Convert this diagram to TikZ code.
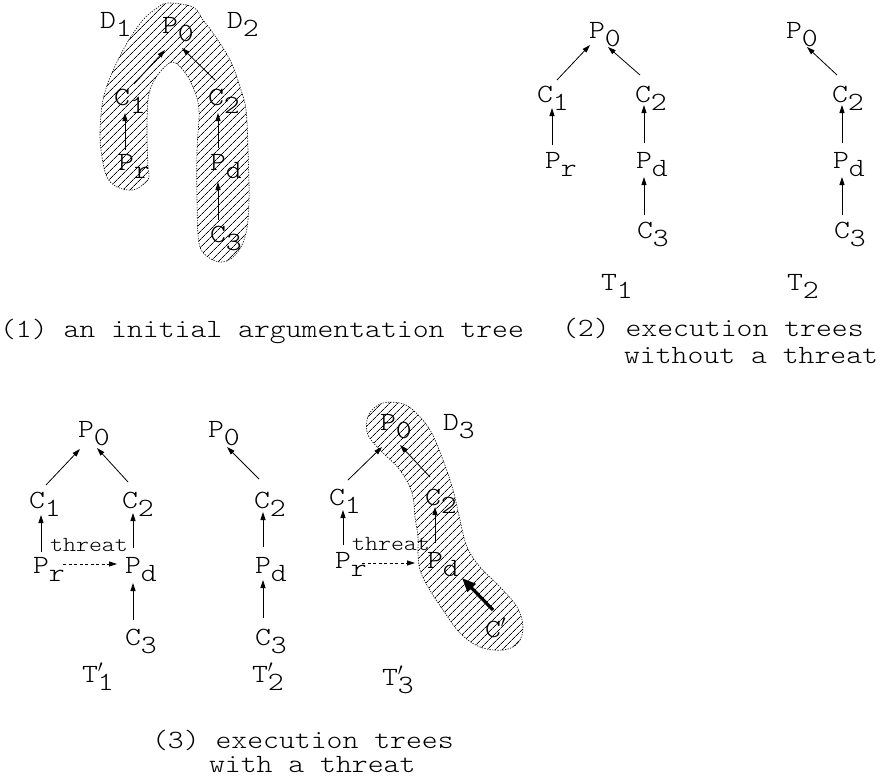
\documentclass[tikz,border=0pt]{standalone}
\usepackage{fontspec}
\newfontfamily\typew{lmmonolt10-regular.otf}[FakeStretch=1.15]
\usetikzlibrary{arrows.meta,patterns.meta,calc}

% letter with a lowered index (and an optional prime above it)
\newcommand\lbl[2]{#1\rlap{\raisebox{-8pt}{#2}}}
\newcommand\lblp[2]{#1\rlap{\raisebox{-8pt}{#2}}\rlap{$^{\prime}$}}

\tikzset{
  lab/.style={inner sep=0pt, outer sep=0pt, anchor=base,
              font=\typew\fontsize{26.3}{28}\selectfont},
  captext/.style={inner sep=0pt, outer sep=0pt, anchor=base west,
              font=\typew\fontsize{26.3}{28}\selectfont},
  smalltext/.style={inner sep=0pt, outer sep=0pt, anchor=base,
              font=\typew\fontsize{21.5}{24}\selectfont},
  arr/.style={line width=0.8pt, -{Triangle[length=8pt,width=5pt]}},
  thickarr/.style={line width=3.2pt, -{Triangle[length=14pt,width=11pt]}},
  threatarr/.style={line width=0.8pt, dash pattern=on 3pt off 2.5pt,
              -{Triangle[length=8pt,width=5pt]}},
  region/.style={draw, line width=0.6pt, dash pattern=on 1.3pt off 1.3pt,
              pattern={Lines[angle=45,distance=5.4pt,line width=0.65pt]},
              pattern color=black}
}

\begin{document}
\begin{tikzpicture}[x=1pt,y=-1pt]
\useasboundingbox (0,0) rectangle (892,779);

% ---------- (1) initial argumentation tree with regions D1, D2 ----------
\draw[region] plot[smooth cycle, tension=0.6] coordinates {
  (168,3) (193,7) (203,20) (213,33) (230,60) (240,87) (246,110) (248,150)
  (249,200) (246,233) (237,253) (223,262) (208,257) (199,243) (197,200)
  (197,150) (199,110) (193,87) (183,70) (172,62) (160,72) (152,85)
  (148,100) (147,133) (148,167) (149,177) (145,183) (133,190) (117,187)
  (107,177) (102,157) (100,133) (103,100) (112,73) (127,43) (143,20)
  (157,8)};

\node[lab] (aD1) at (108,28) {\lbl{D}{1}};
\node[lab] (aD2) at (235,28) {\lbl{D}{2}};
\node[lab] (aP0) at (170,33) {\lbl{P}{0}};
\node[lab] (aC1) at (122,105) {\lbl{C}{1}};
\node[lab] (aC2) at (216,105) {\lbl{C}{2}};
\node[lab] (aPr) at (126,170) {\lbl{P}{r}};
\node[lab] (aPd) at (218,170) {\lbl{P}{d}};
\node[lab] (aC3) at (218,242) {\lbl{C}{3}};

\draw[arr] ($(aC1.base)+(12,-21)$) -- ($(aP0.base)+(-5,17)$);
\draw[arr] ($(aC2.base)+(-1,-25)$) -- ($(aP0.base)+(12,15)$);
\draw[arr] ($(aPr.base)+(-1,-20)$) -- ($(aC1.base)+(3,8)$);
\draw[arr] ($(aPd.base)+(0,-22)$) -- ($(aC2.base)+(2,8)$);
\draw[arr] ($(aC3.base)+(0,-22)$) -- ($(aPd.base)+(0,12)$);

\node[captext] (cap1) at (0,337) {(1) an initial argumentation tree};

% ---------- (2) execution trees T1 and T2 ----------
\node[lab] (bP0) at (597,38) {\lbl{P}{0}};
\node[lab] (bC1) at (545,102) {\lbl{C}{1}};
\node[lab] (bC2) at (643,102) {\lbl{C}{2}};
\node[lab] (bPr) at (553,168) {\lbl{P}{r}};
\node[lab] (bPd) at (644,168) {\lbl{P}{d}};
\node[lab] (bC3) at (645,238) {\lbl{C}{3}};
\node[lab] (bT) at (609,290) {\lbl{T}{1}};

\draw[arr] ($(bC1.base)+(12,-22)$) -- ($(bP0.base)+(-7,7)$);
\draw[arr] ($(bC2.base)+(-3,-27)$) -- ($(bP0.base)+(11,9)$);
\draw[arr] ($(bPr.base)+(-1,-23)$) -- ($(bC1.base)+(7,6)$);
\draw[arr] ($(bPd.base)+(0,-25)$) -- ($(bC2.base)+(1,3)$);
\draw[arr] ($(bC3.base)+(-1,-23)$) -- ($(bPd.base)+(0,9)$);

\node[lab] (cP0) at (794,38) {\lbl{P}{0}};
\node[lab] (cC2) at (840,102) {\lbl{C}{2}};
\node[lab] (cPd) at (841,168) {\lbl{P}{d}};
\node[lab] (cC3) at (842,238) {\lbl{C}{3}};
\node[lab] (cT) at (795,290) {\lbl{T}{2}};

\draw[arr] ($(cC2.base)+(-3,-27)$) -- ($(cP0.base)+(13,9)$);
\draw[arr] ($(cPd.base)+(1,-25)$) -- ($(cC2.base)+(2,3)$);
\draw[arr] ($(cC3.base)+(0,-23)$) -- ($(cPd.base)+(1,9)$);

\node[captext] (cap2a) at (562,336) {(2) execution trees};
\node[captext] (cap2b) at (624,363) {without a threat};

% ---------- (3) execution trees with a threat ----------
% T1'
\node[lab] (dP0) at (86,437) {\lbl{P}{0}};
\node[lab] (dC1) at (37,508) {\lbl{C}{1}};
\node[lab] (dC2) at (130,508) {\lbl{C}{2}};
\node[lab] (dPr) at (41,573) {\lbl{P}{r}};
\node[lab] (dPd) at (133,573) {\lbl{P}{d}};
\node[lab] (dC3) at (133,645) {\lbl{C}{3}};
\node[smalltext] (dth) at (89,551) {threat};
\node[lab] (dT) at (90,682) {\lblp{T}{1}};

\draw[arr] ($(dC1.base)+(9,-23)$) -- ($(dP0.base)+(-6,12)$);
\draw[arr] ($(dC2.base)+(-2,-26)$) -- ($(dP0.base)+(11,11)$);
\draw[arr] ($(dPr.base)+(0,-21)$) -- ($(dC1.base)+(4,7)$);
\draw[arr] ($(dPd.base)+(0,-25)$) -- ($(dC2.base)+(3,5)$);
\draw[arr] ($(dC3.base)+(0,-25)$) -- ($(dPd.base)+(0,10)$);
\draw[threatarr] ($(dPr.base)+(22,-9)$) -- ($(dPd.base)+(-16,-9)$);

% T2'
\node[lab] (eP0) at (216,437) {\lbl{P}{0}};
\node[lab] (eC2) at (262,508) {\lbl{C}{2}};
\node[lab] (ePd) at (263,573) {\lbl{P}{d}};
\node[lab] (eC3) at (263,645) {\lbl{C}{3}};
\node[lab] (eT) at (260,682) {\lblp{T}{2}};

\draw[arr] ($(eC2.base)+(-3,-29)$) -- ($(eP0.base)+(11,10)$);
\draw[arr] ($(ePd.base)+(0,-26)$) -- ($(eC2.base)+(1,4)$);
\draw[arr] ($(eC3.base)+(0,-27)$) -- ($(ePd.base)+(0,7)$);

% T3' with region D3
\draw[region] plot[smooth cycle, tension=0.6] coordinates {
  (367,420) (372,410) (383,403) (400,403) (413,410) (430,430) (443,460)
  (453,490) (460,520) (467,547) (480,567) (500,587) (517,607) (523,627)
  (518,643) (503,650) (480,647) (460,633) (443,610) (428,587) (420,570)
  (418,553) (418,537) (415,517) (412,493) (400,470) (380,450) (368,435)};

\node[lab] (fP0) at (388,430) {\lbl{P}{0}};
\node[lab] (fD3) at (451,430) {\lbl{D}{3}};
\node[lab] (fC1) at (337,505) {\lbl{C}{1}};
\node[lab] (fC2) at (433,505) {\lbl{C}{2}};
\node[lab] (fPr) at (343,568) {\lbl{P}{r}};
\node[lab] (fPd) at (435,568) {\lbl{P}{d}};
\node[lab] (fCp) at (493,637) {C\rlap{$^{\prime}$}};
\node[smalltext] (fth) at (391,550) {threat};
\node[lab] (fT) at (390,685) {\lblp{T}{3}};

\draw[arr] ($(fC1.base)+(11,-25)$) -- ($(fP0.base)+(-6,17)$);
\draw[arr] ($(fC2.base)+(-3,-28)$) -- ($(fP0.base)+(12,15)$);
\draw[arr] ($(fPr.base)+(0,-23)$) -- ($(fC1.base)+(6,5)$);
\draw[arr] ($(fPd.base)+(0,-25)$) -- ($(fC2.base)+(2,2)$);
\draw[threatarr] ($(fPr.base)+(19,-5)$) -- ($(fPd.base)+(-20,-5)$);
\draw[thickarr] ($(fCp.base)+(0,-27)$) -- ($(fPd.base)+(27,10)$);

\node[captext] (cap3a) at (152,748) {(3) execution trees};
\node[captext] (cap3b) at (209,772) {with a threat};
\end{tikzpicture}
\end{document}
